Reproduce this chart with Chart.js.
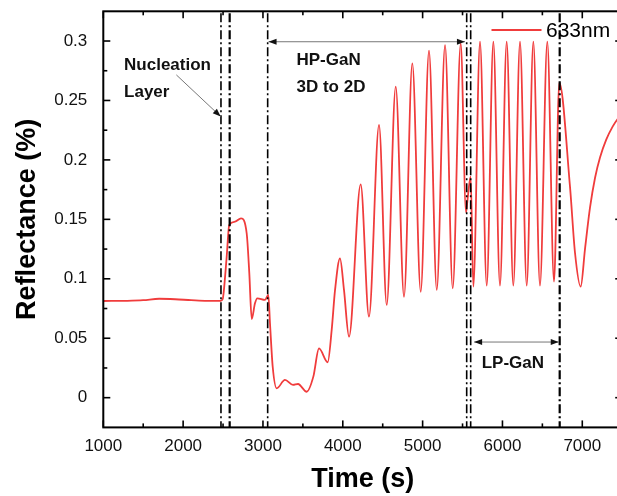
<!DOCTYPE html>
<html>
<head>
<meta charset="utf-8">
<script src="https://cdn.jsdelivr.net/npm/chart.js@4.4.0/dist/chart.umd.min.js"></script>
<style>
  html, body { margin: 0; padding: 0; background: #fff; overflow: hidden; }
  #wrap { position: relative; width: 630px; height: 496px; }
</style>
</head>
<body>
<div id="wrap"><canvas id="chart"></canvas></div>
<script>
// reflectance trace (time in s, reflectance in %)
const timeS = [
  1000, 1300, 1500, 1700, 1900, 2100, 2300, 2470,
  2496, 2510, 2545, 2578, 2650, 2725, 2796, 2829, 2859, 2900, 2929, 3026, 3067,
  3088, 3122, 3172, 3276, 3376, 3439, 3548, 3631, 3702, 3811, 3861, 3903, 3965,
  4015, 4078, 4224, 4328, 4454, 4550, 4663, 4767, 4871, 4976, 5080, 5177, 5281,
  5377, 5477, 5544, 5560, 5602, 5635,
  5719, 5803, 5886, 5969, 6053, 6136, 6220, 6304, 6387, 6470, 6562, 6646, 6712,
  6846, 6909, 6980, 7034, 7097, 7160, 7222, 7300, 7380, 7450, 7500
];
const reflectance = [
  0.0813, 0.0815, 0.0820, 0.0832, 0.0828, 0.0820, 0.0814, 0.0815,
  0.0830, 0.0900, 0.1180, 0.1453, 0.1480, 0.1509, 0.1383, 0.1046, 0.0662, 0.0794, 0.0836, 0.0822, 0.0864,
  0.0626, 0.0260, 0.0079, 0.0149, 0.0107, 0.0115, 0.0050, 0.0177, 0.0415, 0.0298, 0.0570, 0.0906, 0.1172,
  0.0906, 0.0513, 0.1795, 0.0681, 0.2294, 0.0780, 0.2616, 0.0849, 0.2812, 0.0891, 0.2918, 0.0906, 0.2966,
  0.0920, 0.2981, 0.1559, 0.1650, 0.1859, 0.0934,
  0.2994, 0.0942, 0.2994, 0.0942, 0.2994, 0.0942, 0.2994, 0.0942, 0.2994, 0.0942, 0.2994, 0.0976, 0.2649,
  0.1775, 0.1217, 0.0934, 0.1250, 0.1600, 0.1850, 0.2020, 0.2170, 0.2280, 0.2350, 0.2390
];
const xTicks = [1000, 2000, 3000, 4000, 5000, 6000, 7000];
const yTicks = [0, 0.05, 0.1, 0.15, 0.2, 0.25, 0.3];
// growth stage boundaries (s)
const stageLines = [2474, 2583, 3059, 5552, 5602, 6717];

const FONT = "'Liberation Sans', Arial, sans-serif";
Chart.defaults.font.family = FONT;
Chart.defaults.color = "#000";

// labels and arrows, placed in data coordinates
const labels = [
  { text: "Nucleation", x: 1260, y: 0.2755 },
  { text: "Layer",      x: 1260, y: 0.2525 },
  { text: "HP-GaN",     x: 3420, y: 0.2800 },
  { text: "3D to 2D",   x: 3420, y: 0.2575 },
  { text: "LP-GaN",     x: 5740, y: 0.0250 },
];
const arrows = [
  { from: [1915, 0.2715], to: [2470, 0.2365], heads: "end" },
  { from: [3070, 0.2994], to: [5530, 0.2994], heads: "both" },
  { from: [5645, 0.0468], to: [6705, 0.0468], heads: "both" },
];

function arrowHead(ctx, x1, y1, x2, y2) {
  const a = Math.atan2(y2 - y1, x2 - x1);
  ctx.save();
  ctx.translate(x2, y2);
  ctx.rotate(a);
  ctx.beginPath();
  ctx.moveTo(0, 0);
  ctx.lineTo(-8, -3);
  ctx.lineTo(-8, 3);
  ctx.closePath();
  ctx.fillStyle = "#111";
  ctx.fill();
  ctx.restore();
}

const decorations = {
  id: "decorations",
  afterDatasetsDraw(chart) {
    const { ctx, chartArea: ca, scales: { x, y } } = chart;
    ctx.save();

    // dash-dot stage lines
    ctx.strokeStyle = "#000";
    ctx.setLineDash([9, 3, 2, 3]);
    stageLines.forEach((t, i) => {
      ctx.lineWidth = (i === 1 || i === 5) ? 2.2 : 1.6;
      const px = x.getPixelForValue(t);
      ctx.beginPath();
      ctx.moveTo(px, ca.top + 2);
      ctx.lineTo(px, ca.bottom);
      ctx.stroke();
    });
    ctx.setLineDash([]);

    // arrows
    arrows.forEach(a => {
      const x1 = x.getPixelForValue(a.from[0]), y1 = y.getPixelForValue(a.from[1]);
      const x2 = x.getPixelForValue(a.to[0]),   y2 = y.getPixelForValue(a.to[1]);
      ctx.strokeStyle = "#777";
      ctx.lineWidth = 1;
      ctx.beginPath();
      ctx.moveTo(x1, y1);
      ctx.lineTo(x2, y2);
      ctx.stroke();
      arrowHead(ctx, x1, y1, x2, y2);
      if (a.heads === "both") arrowHead(ctx, x2, y2, x1, y1);
    });

    // text labels
    ctx.fillStyle = "#111";
    ctx.font = "bold 17px " + FONT;
    ctx.textAlign = "left";
    ctx.textBaseline = "alphabetic";
    labels.forEach(l => ctx.fillText(l.text, x.getPixelForValue(l.x), y.getPixelForValue(l.y)));

    // legend
    const ds = chart.data.datasets[0];
    ctx.strokeStyle = ds.borderColor;
    ctx.lineWidth = 2;
    ctx.beginPath();
    ctx.moveTo(491.5, 30);
    ctx.lineTo(541.5, 30);
    ctx.stroke();
    ctx.fillStyle = "#000";
    ctx.font = "21px " + FONT;
    ctx.fillText(ds.label, 546, 37);

    // frame with inward ticks on all four sides
    ctx.strokeStyle = "#000";
    ctx.lineWidth = 2;
    ctx.strokeRect(ca.left, ca.top, ca.right - ca.left, ca.bottom - ca.top);
    ctx.lineWidth = 1.6;
    const tick = (x1, y1, x2, y2) => { ctx.beginPath(); ctx.moveTo(x1, y1); ctx.lineTo(x2, y2); ctx.stroke(); };
    xTicks.forEach(v => {
      const px = x.getPixelForValue(v);
      tick(px, ca.bottom, px, ca.bottom - 7);
      tick(px, ca.top, px, ca.top + 7);
      const pm = x.getPixelForValue(v + 500);
      tick(pm, ca.bottom, pm, ca.bottom - 4);
      tick(pm, ca.top, pm, ca.top + 4);
    });
    yTicks.forEach(v => {
      const py = y.getPixelForValue(v);
      tick(ca.left, py, ca.left + 7, py);
      tick(ca.right, py, ca.right - 7, py);
    });
    yTicks.slice(0, -1).forEach(v => {
      const py = y.getPixelForValue(v + 0.025);
      tick(ca.left, py, ca.left + 4, py);
      tick(ca.right, py, ca.right - 4, py);
    });
    ctx.restore();
  }
};

new Chart(document.getElementById("chart"), {
  type: "line",
  data: {
    datasets: [{
      label: "633nm",
      data: timeS.map((t, i) => ({ x: t, y: reflectance[i] })),
      borderColor: "#f03c3c",
      borderWidth: 1.8,
      pointRadius: 0,
      cubicInterpolationMode: "monotone",
      fill: false
    }]
  },
  options: {
    responsive: true,
    maintainAspectRatio: false,
    animation: false,
    layout: { padding: { top: 11.3, right: 7.8, left: 0, bottom: 0 } },
    plugins: { legend: { display: false }, tooltip: { enabled: false } },
    scales: {
      x: {
        type: "linear",
        min: 1000, max: 7500,
        afterFit: s => { s.height = 68.6; s.paddingLeft = 0; s.paddingRight = 0; },
        afterBuildTicks: s => { s.ticks = xTicks.map(v => ({ value: v })); },
        ticks: { padding: 1, font: { size: 17 }, color: "#111", maxRotation: 0, callback: v => String(v) },
        grid: { display: false },
        border: { display: false },
        title: { display: true, text: "Time (s)", font: { size: 27, weight: "bold" }, color: "#000", padding: { top: 0, bottom: 0 } }
      },
      y: {
        min: -0.025, max: 0.325,
        afterFit: s => { s.width = 103.3; s.paddingTop = 0; s.paddingBottom = 0; },
        afterBuildTicks: s => { s.ticks = yTicks.map(v => ({ value: v })); },
        ticks: { padding: 8, font: { size: 17 }, color: "#111", callback: v => String(Math.round(v * 1000) / 1000) },
        grid: { display: false },
        border: { display: false },
        title: { display: true, text: "Reflectance (%)", font: { size: 27, weight: "bold" }, color: "#000", padding: { top: 11, bottom: 0 } }
      }
    }
  },
  plugins: [decorations]
});
</script>
</body>
</html>
